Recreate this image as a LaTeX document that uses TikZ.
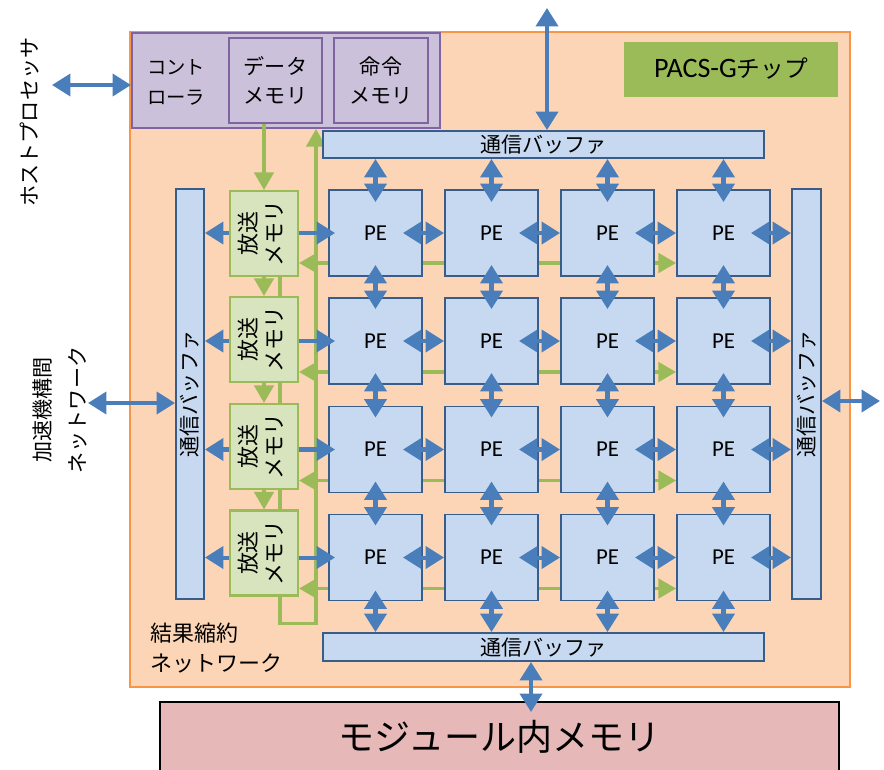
\documentclass[tikz,border=0pt]{standalone}
\usepackage{fontspec}
\setmainfont{Carlito}
\newfontfamily\jp{Noto Sans CJK JP}
\usetikzlibrary{arrows.meta,calc}

\definecolor{chipfill}{HTML}{FBD5B5}
\definecolor{chipline}{HTML}{F79646}
\definecolor{pefill}{HTML}{C6D9F1}
\definecolor{peline}{HTML}{385D8A}
\definecolor{linkblue}{HTML}{4A7EBB}
\definecolor{bcfill}{HTML}{D7E4BD}
\definecolor{bcline}{HTML}{9BBB59}
\definecolor{ctlfill}{HTML}{CCC1DA}
\definecolor{ctlline}{HTML}{8064A2}
\definecolor{tagfill}{HTML}{9BBB59}
\definecolor{memfill}{HTML}{E6B9B8}

\pgfdeclarelayer{back}
\pgfdeclarelayer{wires}
\pgfsetlayers{back,wires,main}

\newcommand{\jpsize}[2]{\jp\fontsize{#1}{#2}\selectfont}
\newcommand{\vlines}[1]{\rotatebox{90}{\begin{tabular}{@{}c@{}}#1\end{tabular}}}

\begin{document}
\begin{tikzpicture}[x=0.02cm, y=-0.02cm,
  pe/.style={draw=peline, fill=pefill, line width=1.1pt, inner sep=0pt,
    minimum width=1.86cm, minimum height=1.72cm, font=\fontsize{13}{15}\selectfont},
  buffer/.style={draw=peline, fill=pefill, line width=1.1pt, inner sep=0pt, font=\jpsize{12}{14}},
  bcmem/.style={draw=bcline, fill=bcfill, line width=1.2pt, inner sep=0pt,
    minimum width=1.36cm, minimum height=1.7cm, font=\jpsize{12.5}{15}},
  ctlbox/.style={draw=ctlline, fill=ctlfill, line width=1.2pt, inner sep=0pt,
    minimum height=1.7cm, align=center, font=\jpsize{12}{17}},
  link/.style={draw=linkblue, line width=2.3pt, >={Triangle[length=10.5pt,width=12.5pt]}},
  rnet/.style={draw=bcline, line width=2pt, >={Triangle[length=10pt,width=11pt]}}]
\useasboundingbox (0,0) rectangle (884,769);
\clip (0,0) rectangle (884,769);
%\draw[help lines, step=50] (0,0) grid (884,769);
%%%%%%%%%%%%%%%%%%%%%%%%%%%%%%% chip and outside
\begin{pgfonlayer}{back}
\draw[draw=chipline, fill=chipfill, line width=1.3pt] (130,32) rectangle (850,687);
\end{pgfonlayer}
\node[draw=black, fill=memfill, line width=0.8pt, minimum width=13.58cm, minimum height=1.4cm,
  font=\jpsize{20.5}{24}] (modmem) at (499.5,737) {モジュール内メモリ};
\node[rotate=90, font=\jpsize{12}{14}] (hostlbl) at (30,122) {ホストプロセッサ};
\node[rotate=90, align=center, font=\jpsize{12}{20}] (netlbl) at (60,410) {加速機構間\\ネットワーク};
\node[anchor=west, align=left, font=\jpsize{12.5}{17}] (redlbl) at (144,648) {結果縮約\\ネットワーク};
\node[fill=tagfill, minimum width=4.28cm, minimum height=1.1cm, font=\fontsize{16}{18}\selectfont]
  (tag) at (731,69) {PACS-G{\jpsize{13.5}{16}チップ}};
\coordinate (hostio) at (52,85);
\coordinate (topio) at (547,8);
\coordinate (netio) at (88,403);
\coordinate (sideio) at (880,401);
\coordinate (modio) at (531,712);
%%%%%%%%%%%%%%%%%%%%%%%%%%%%%%% controller
\node[ctlbox, minimum width=6.16cm, minimum height=1.9cm] (ctrl) at (286,80.5){};
\node[anchor=west, align=left, font=\jpsize{11}{17}] (ctrltxt) at (141,82){コント\\ローラ};
\node[ctlbox, minimum width=1.86cm] (dmem) at (275.5,80.5){データ\\メモリ};
\node[ctlbox, minimum width=1.88cm] (imem) at (381,80.5){命令\\メモリ};
%%%%%%%%%%%%%%%%%%%%%%%%%%%%%%% buffers
\node[buffer, minimum width=8.82cm, minimum height=0.54cm] (tbuf) at (543.5,144.5){通信バッファ};
\node[buffer, minimum width=8.82cm, minimum height=0.56cm] (bbuf) at (543.5,647){通信バッファ};
\node[buffer, minimum width=0.56cm, minimum height=8.2cm] (lbuf) at (190,394){\rotatebox{90}{通信バッファ}};
\node[buffer, minimum width=0.58cm, minimum height=8.2cm] (rbuf) at (806.5,394){\rotatebox{90}{通信バッファ}};
%%%%%%%%%%%%%%%%%%%%%%%%%%%%%%% broadcast memories
\node[bcmem] (bc1) at (264,233.5){\vlines{放送\\メモリ}};
\node[bcmem] (bc2) at (264,339.5){\vlines{放送\\メモリ}};
\node[bcmem] (bc3) at (264,446.5){\vlines{放送\\メモリ}};
\node[bcmem] (bc4) at (264,553){\vlines{放送\\メモリ}};
%%%%%%%%%%%%%%%%%%%%%%%%%%%%%%% PE array
\node[pe] (pe11) at (375.5,233){PE};
\node[pe] (pe12) at (491.5,233){PE};
\node[pe] (pe13) at (607.5,233){PE};
\node[pe] (pe14) at (723.5,233){PE};
\node[pe] (pe21) at (375.5,341){PE};
\node[pe] (pe22) at (491.5,341){PE};
\node[pe] (pe23) at (607.5,341){PE};
\node[pe] (pe24) at (723.5,341){PE};
\node[pe] (pe31) at (375.5,449.5){PE};
\node[pe] (pe32) at (491.5,449.5){PE};
\node[pe] (pe33) at (607.5,449.5){PE};
\node[pe] (pe34) at (723.5,449.5){PE};
\node[pe] (pe41) at (375.5,557.5){PE};
\node[pe] (pe42) at (491.5,557.5){PE};
\node[pe] (pe43) at (607.5,557.5){PE};
\node[pe] (pe44) at (723.5,557.5){PE};
%%%%%%%%%%%%%%%%%%%%%%%%%%%%%%% result reduction network (behind the boxes)
\begin{pgfonlayer}{wires}
\draw[rnet,<->] ($(bc1.east |- pe11)+(0,30)$) -- ($(pe14.west)+(0,30)$);
\draw[rnet,<->] ($(bc2.east |- pe21)+(0,31)$) -- ($(pe24.west)+(0,31)$);
\draw[rnet,<->] ($(bc3.east |- pe31)+(0,31)$) -- ($(pe34.west)+(0,31)$);
\draw[rnet,<->] ($(bc4.east |- pe41)+(0,31)$) -- ($(pe44.west)+(0,31)$);
\draw[rnet,->] ($(bc1.south)+(16,0)$) -- ($(bc4.south)+(16,27)$) -| ($(ctrl.south)+(30,0)$);
\end{pgfonlayer}
\draw[rnet,->] (dmem.south -| bc1) -- (bc1.north);
\draw[rnet,->] (bc1.south) -- (bc2.north);
\draw[rnet,->] (bc2.south) -- (bc3.north);
\draw[rnet,->] (bc3.south) -- (bc4.north);
%%%%%%%%%%%%%%%%%%%%%%%%%%%%%%% outside links
\draw[link,<->] (hostio) -- (ctrl.west |- hostio);
\draw[link,<->] (topio) -- (tbuf.north -| topio);
\draw[link,<->] (netio) -- (lbuf.west |- netio);
\draw[link,<->] (rbuf.east |- sideio) -- (sideio);
\draw[link,<->] (bbuf.south -| modio) -- (modio);
%%%%%%%%%%%%%%%%%%%%%%%%%%%%%%% broadcast memory links
\draw[link,->] (bc1.east |- pe11) -- ($(pe11.west)+(7,0)$);
\draw[link,->] (bc2.east |- pe21) -- ($(pe21.west)+(7,0)$);
\draw[link,->] (bc3.east |- pe31) -- ($(pe31.west)+(7,0)$);
\draw[link,->] (bc4.east |- pe41) -- ($(pe41.west)+(7,0)$);
\draw[link,->] (bc1.west |- pe11) -- (lbuf.east |- pe11);
\draw[link,->] (bc2.west |- pe21) -- (lbuf.east |- pe21);
\draw[link,->] (bc3.west |- pe31) -- (lbuf.east |- pe31);
\draw[link,->] (bc4.west |- pe41) -- (lbuf.east |- pe41);
%%%%%%%%%%%%%%%%%%%%%%%%%%%%%%% PE links, vertical
\draw[link,<->] (tbuf.south -| pe11) -- ($(pe11.north)+(0,13)$);
\draw[link,<->] (tbuf.south -| pe12) -- ($(pe12.north)+(0,13)$);
\draw[link,<->] (tbuf.south -| pe13) -- ($(pe13.north)+(0,13)$);
\draw[link,<->] (tbuf.south -| pe14) -- ($(pe14.north)+(0,13)$);
\draw[link,<->] ($(pe11.south)+(0,-12)$) -- ($(pe21.north)+(0,12)$);
\draw[link,<->] ($(pe12.south)+(0,-12)$) -- ($(pe22.north)+(0,12)$);
\draw[link,<->] ($(pe13.south)+(0,-12)$) -- ($(pe23.north)+(0,12)$);
\draw[link,<->] ($(pe14.south)+(0,-12)$) -- ($(pe24.north)+(0,12)$);
\draw[link,<->] ($(pe21.south)+(0,-12)$) -- ($(pe31.north)+(0,12)$);
\draw[link,<->] ($(pe22.south)+(0,-12)$) -- ($(pe32.north)+(0,12)$);
\draw[link,<->] ($(pe23.south)+(0,-12)$) -- ($(pe33.north)+(0,12)$);
\draw[link,<->] ($(pe24.south)+(0,-12)$) -- ($(pe34.north)+(0,12)$);
\draw[link,<->] ($(pe31.south)+(0,-12)$) -- ($(pe41.north)+(0,12)$);
\draw[link,<->] ($(pe32.south)+(0,-12)$) -- ($(pe42.north)+(0,12)$);
\draw[link,<->] ($(pe33.south)+(0,-12)$) -- ($(pe43.north)+(0,12)$);
\draw[link,<->] ($(pe34.south)+(0,-12)$) -- ($(pe44.north)+(0,12)$);
\draw[link,<->] ($(pe41.south)+(0,-11)$) -- (bbuf.north -| pe41);
\draw[link,<->] ($(pe42.south)+(0,-11)$) -- (bbuf.north -| pe42);
\draw[link,<->] ($(pe43.south)+(0,-11)$) -- (bbuf.north -| pe43);
\draw[link,<->] ($(pe44.south)+(0,-11)$) -- (bbuf.north -| pe44);
%%%%%%%%%%%%%%%%%%%%%%%%%%%%%%% PE links, horizontal
\draw[link,<->] ($(pe11.east)+(-20,0)$) -- (pe12.west);
\draw[link,<->] ($(pe12.east)+(-20,0)$) -- (pe13.west);
\draw[link,<->] ($(pe13.east)+(-20,0)$) -- (pe14.west);
\draw[link,<->] ($(pe14.east)+(-20,0)$) -- (rbuf.west |- pe14);
\draw[link,<->] ($(pe21.east)+(-20,0)$) -- (pe22.west);
\draw[link,<->] ($(pe22.east)+(-20,0)$) -- (pe23.west);
\draw[link,<->] ($(pe23.east)+(-20,0)$) -- (pe24.west);
\draw[link,<->] ($(pe24.east)+(-20,0)$) -- (rbuf.west |- pe24);
\draw[link,<->] ($(pe31.east)+(-20,0)$) -- (pe32.west);
\draw[link,<->] ($(pe32.east)+(-20,0)$) -- (pe33.west);
\draw[link,<->] ($(pe33.east)+(-20,0)$) -- (pe34.west);
\draw[link,<->] ($(pe34.east)+(-20,0)$) -- (rbuf.west |- pe34);
\draw[link,<->] ($(pe41.east)+(-20,0)$) -- (pe42.west);
\draw[link,<->] ($(pe42.east)+(-20,0)$) -- (pe43.west);
\draw[link,<->] ($(pe43.east)+(-20,0)$) -- (pe44.west);
\draw[link,<->] ($(pe44.east)+(-20,0)$) -- (rbuf.west |- pe44);
\end{tikzpicture}
\end{document}
